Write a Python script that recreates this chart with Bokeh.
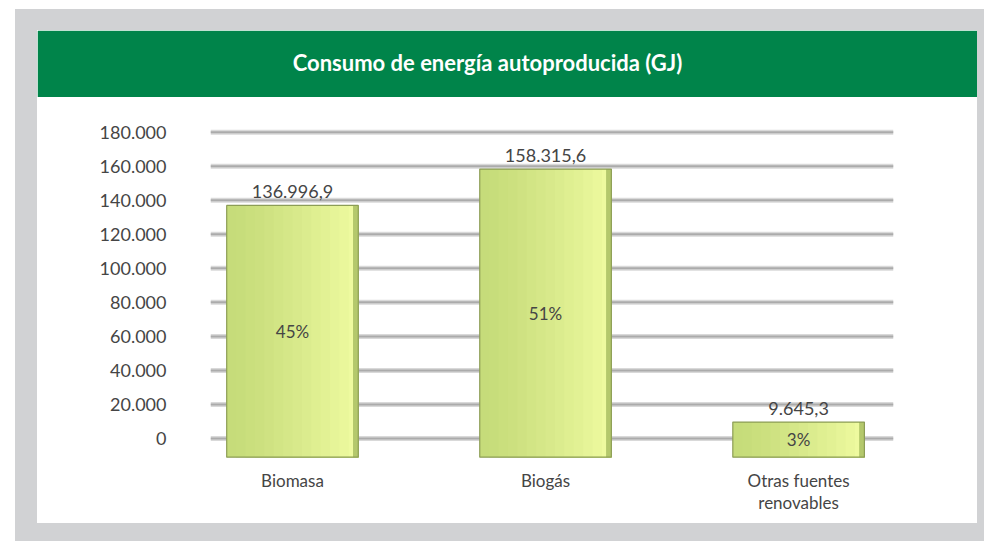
from bokeh.plotting import figure
from bokeh.models import ColumnDataSource, FixedTicker, Spacer
from bokeh.layouts import column, row
from bokeh.transform import dodge
from bokeh.embed import file_html
from bokeh.resources import INLINE
from bokeh.core.properties import value

# ---------------- data ----------------
categories = ["Biomasa", "Biogás", "Otras fuentes\nrenovables"]
energy_gj = [136996.9, 158315.6, 9645.3]
value_labels = ["136.996,9", "158.315,6", "9.645,3"]
share_labels = ["45%", "51%", "3%"]
y_ticks = [0, 20000, 40000, 60000, 80000, 100000, 120000, 140000, 160000, 180000]
y_tick_labels = ["0", "20.000", "40.000", "60.000", "80.000", "100.000",
                 "120.000", "140.000", "160.000", "180.000"]
title_text = ["Consumo de energía autoproducida (GJ)"]

# ---------------- styles ----------------
FONT = "Lato"
BASE = -11000          # 3D depth offset of the bar bases
BAR_W = 0.52
GRAY_BG = "#d1d2d4"
GREEN = "#00844a"
TXT = "#454545"
PANEL_W = 940
BORDER_L, BORDER_R = 173, 84


def mix(c1, c2, t):
    a = [int(c1[i:i + 2], 16) for i in (1, 3, 5)]
    b = [int(c2[i:i + 2], 16) for i in (1, 3, 5)]
    return "#" + "".join("%02x" % round(a[k] + (b[k] - a[k]) * t) for k in range(3))


# ---------------- header (green band with title) ----------------
hdr = figure(width=PANEL_W, height=67, output_backend="svg", toolbar_location=None,
             x_range=(0, 1), y_range=(0, 1), x_axis_location=None, y_axis_location=None,
             min_border_left=BORDER_L, min_border_right=BORDER_R,
             min_border_top=4, min_border_bottom=4)
hdr.background_fill_color = GREEN
hdr.border_fill_color = GREEN
hdr.outline_line_color = GREEN
hdr.outline_line_width = 3
hdr.grid.visible = False
TITLE_X = (487 - 37 - BORDER_L) / (PANEL_W - BORDER_L - BORDER_R)
hdr.text(x=[TITLE_X], y=[0.52], text=title_text, text_color="white",
         text_font=value(FONT), text_font_style="bold", text_font_size="22px",
         text_align="center", text_baseline="middle")

# ---------------- main chart ----------------
xs = list(range(len(categories)))
mids = [(v + BASE) / 2 for v in energy_gj]
src = ColumnDataSource(dict(x=xs, top=energy_gj, bottom=[BASE] * len(xs),
                            mid=mids, vlab=value_labels, plab=share_labels))

p = figure(width=PANEL_W, height=426, output_backend="svg", toolbar_location=None,
           x_range=(-0.324, 2.375), y_range=(-12930, 189815),
           min_border_left=BORDER_L, min_border_right=BORDER_R,
           min_border_top=18, min_border_bottom=63)
p.border_fill_color = "white"
p.background_fill_color = "white"
p.outline_line_color = None
p.xgrid.visible = False
p.ygrid.visible = False

# gridlines (3D-looking gray bands)
gx0 = [p.x_range.start] * len(y_ticks)
gx1 = [p.x_range.end] * len(y_ticks)
p.segment(x0=gx0, x1=gx1, y0=y_ticks, y1=y_ticks, line_color="#d9d9d9", line_width=5)
p.segment(x0=gx0, x1=gx1, y0=y_ticks, y1=y_ticks, line_color="#ababab", line_width=2)

# bars with a smooth left-to-right light gradient
N = 14
for i in range(N):
    frac_left = i / N
    wdt = BAR_W * (1 - frac_left)
    off = BAR_W * frac_left / 2
    col = mix("#c6dc7a", "#eefa9f", (i / (N - 1)) ** 1.3)
    p.vbar(x=dodge("x", off, range=p.x_range), top="top", bottom="bottom",
           width=wdt, source=src, fill_color=col, line_color=None)
p.vbar(x=dodge("x", BAR_W * 0.48, range=p.x_range), top="top", bottom="bottom",
       width=BAR_W * 0.04, source=src, fill_color="#b4c86c", line_color=None)
p.vbar(x="x", top="top", bottom="bottom", width=BAR_W, source=src,
       fill_alpha=0, line_color="#8c9d55", line_width=1.2)

# value labels and share labels
p.text(x="x", y="top", text="vlab", source=src, y_offset=-7,
       text_align="center", text_baseline="bottom", text_color=TXT,
       text_font=value(FONT), text_font_size="18px")
p.text(x="x", y="mid", text="plab", source=src,
       text_align="center", text_baseline="middle", text_color=TXT,
       text_font=value(FONT), text_font_size="17px")

# axes
p.yaxis.ticker = FixedTicker(ticks=y_ticks)
p.yaxis.major_label_overrides = dict(zip(y_ticks, y_tick_labels))
p.yaxis.axis_line_color = None
p.yaxis.major_tick_line_color = None
p.yaxis.minor_tick_line_color = None
p.yaxis.major_label_standoff = 38
p.yaxis.major_label_text_font = FONT
p.yaxis.major_label_text_font_size = "18px"
p.yaxis.major_label_text_color = TXT

p.xaxis.ticker = FixedTicker(ticks=xs)
p.xaxis.major_label_overrides = dict(zip(xs, categories))
p.xaxis.axis_line_color = None
p.xaxis.major_tick_line_color = None
p.xaxis.minor_tick_line_color = None
p.xaxis.major_label_standoff = 3
p.xaxis.major_label_text_font = FONT
p.xaxis.major_label_text_font_size = "17px"
p.xaxis.major_label_text_color = TXT
p.xaxis.major_label_text_line_height = 1.05

# ---------------- page frame: gray surround ----------------
gray = {"background-color": GRAY_BG}
panel = column(hdr, p, spacing=0)
middle = row(Spacer(width=22, height=493, styles=gray), panel,
             Spacer(width=7, height=493, styles=gray), spacing=0)
framed = column(Spacer(width=969, height=21, styles=gray), middle,
                Spacer(width=969, height=18, styles=gray), spacing=0)
page = column(Spacer(width=984, height=9),
              row(Spacer(width=15, height=532), framed, spacing=0),
              spacing=0)

open("out.html", "w").write(file_html(page, INLINE))
